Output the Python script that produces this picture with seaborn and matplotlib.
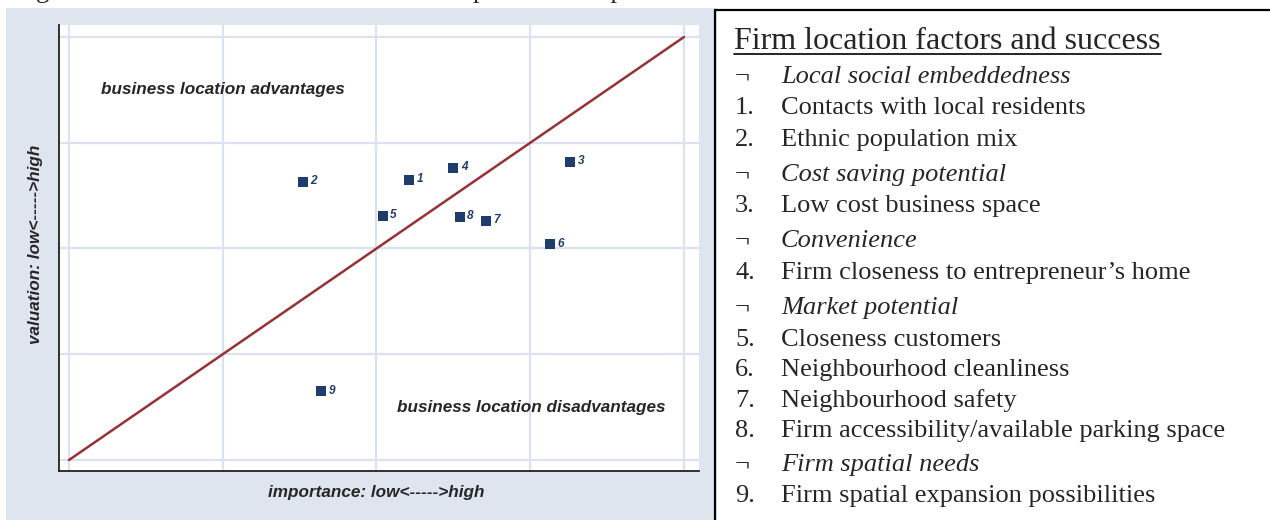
import seaborn as sns
import matplotlib.pyplot as plt
from matplotlib.patches import Rectangle
from matplotlib.lines import Line2D

# mean scores per location factor
factor_ids = [1, 2, 3, 4, 5, 6, 7, 8, 9]
importance = [3.21, 2.52, 4.26, 3.50, 3.04, 4.13, 3.71, 3.54, 2.64]
valuation = [3.65, 3.63, 3.82, 3.76, 3.31, 3.04, 3.26, 3.30, 1.65]
scale_ticks = [1, 2, 3, 4, 5]

caption = "Figure 2: Location factors and success: the perceived importance and valuation of location needs"
legend_title = "Firm location factors and success"
legend_marks = ["\u00ac", "1.", "2.", "\u00ac", "3.", "\u00ac", "4.", "\u00ac",
                "5.", "6.", "7.", "8.", "\u00ac", "9."]
legend_texts = [
    "Local social embeddedness",
    "Contacts with local residents",
    "Ethnic population mix",
    "Cost saving potential",
    "Low cost business space",
    "Convenience",
    "Firm closeness to entrepreneur\u2019s home",
    "Market potential",
    "Closeness customers",
    "Neighbourhood cleanliness",
    "Neighbourhood safety",
    "Firm accessibility/available parking space",
    "Firm spatial needs",
    "Firm spatial expansion possibilities",
]

W, H = 1270, 520
def fx(px):
    return px / W
def fy(py):
    return 1 - py / H

navy = "#1f3d6c"
maroon = "#963236"
panel_blue = "#dfe5ef"
grid_blue = "#dce3ee"

sns.set_style("white")
plt.rcParams["font.family"] = ["Liberation Sans", "DejaVu Sans"]

fig = plt.figure(figsize=(W / 100, H / 100), dpi=100)
fig.patch.set_facecolor("white")

# stata-like light blue graph region
fig.add_artist(Rectangle((fx(6), 0), fx(717) - fx(6), fy(8), transform=fig.transFigure,
                         facecolor=panel_blue, edgecolor="none", zorder=-1))

ax = fig.add_axes([fx(59), fy(471), fx(699) - fx(59), (471 - 25) / H])
ax.set_facecolor("white")

sns.lineplot(x=scale_ticks, y=scale_ticks, color=maroon, lw=1.8, ax=ax, zorder=2)
sns.scatterplot(x=importance, y=valuation, marker="s", s=60, color=navy,
                linewidth=0, ax=ax, zorder=3)
for i, x, y in zip(factor_ids, importance, valuation):
    ax.annotate(str(i), (x, y), xytext=(5.5, 0.5), textcoords="offset points",
                va="center", ha="left", fontsize=8.5, fontstyle="italic",
                fontweight="bold", color=navy)

ax.set_xlim(1 - 10 / 153.75, 5 + 15 / 153.75)
ax.set_ylim(1 - 11 / 105.75, 5 + 12 / 105.75)
ax.set_xticks(scale_ticks)
ax.set_yticks(scale_ticks)
ax.set_xticklabels([])
ax.set_yticklabels([])
ax.grid(True, color=grid_blue, lw=1.6)
ax.set_axisbelow(True)
ax.tick_params(direction="out", length=6, width=1.1, color="#222222")
for side in ["top", "right"]:
    ax.spines[side].set_visible(False)
for side in ["left", "bottom"]:
    ax.spines[side].set_color("#222222")
    ax.spines[side].set_linewidth(1.3)

ax.text(1.208, 4.50, "business location advantages", fontsize=12.3, fontstyle="italic",
        fontweight="bold", va="center", ha="left")
ax.text(3.133, 1.50, "business location disadvantages", fontsize=12.3, fontstyle="italic",
        fontweight="bold", va="center", ha="left")

fig.text(fx(376), fy(493), "importance: low<----->high", fontsize=12.3, fontstyle="italic",
         fontweight="bold", ha="center", va="center")
fig.text(fx(36), fy(244), "valuation: low<----->high", fontsize=12.3, fontstyle="italic",
         fontweight="bold", ha="center", va="center", rotation=90)

# caption of the page, cut off at the top edge
fig.text(fx(14), fy(-2), caption, fontsize=19, family="Liberation Serif", va="baseline")

# right text panel with its border
fig.add_artist(Line2D([fx(715), fx(715)], [0, fy(10)], color="black", lw=1.6,
                      transform=fig.transFigure))
fig.add_artist(Line2D([fx(715), 1], [fy(10), fy(10)], color="black", lw=1.6,
                      transform=fig.transFigure))

title = fig.text(fx(734), fy(49), legend_title, fontsize=23, family="Liberation Serif",
                 va="baseline")
fig.canvas.draw()
bb = title.get_window_extent().transformed(fig.transFigure.inverted())
fig.add_artist(Line2D([bb.x0, bb.x1], [fy(54), fy(54)], color="black", lw=1.2,
                      transform=fig.transFigure))

baselines = [83, 114, 146, 181, 212, 247, 279, 314, 346, 376, 407, 437, 471, 502]
for mark, txt, base in zip(legend_marks, legend_texts, baselines):
    italic = mark == "\u00ac"
    fig.text(fx(735), fy(base), mark, fontsize=19, family="Liberation Serif",
             va="baseline")
    fig.text(fx(781), fy(base), txt, fontsize=19, family="Liberation Serif",
             va="baseline", fontstyle="italic" if italic else "normal")

fig.savefig("out.png", dpi=100, facecolor="white")
